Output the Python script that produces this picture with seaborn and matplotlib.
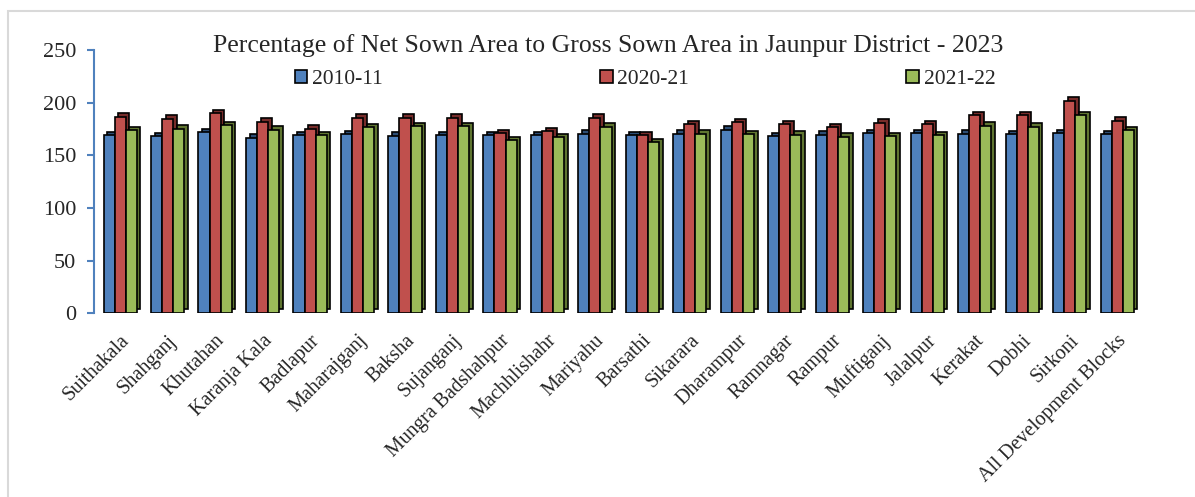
import numpy as np
import pandas as pd
import seaborn as sns
import matplotlib.pyplot as plt
import matplotlib.patheffects as pe
from matplotlib.patches import Rectangle

# data
blocks = ["Suithakala", "Shahganj", "Khutahan", "Karanja Kala", "Badlapur",
          "Maharajganj", "Baksha", "Sujanganj", "Mungra Badshahpur", "Machhlishahr",
          "Mariyahu", "Barsathi", "Sikarara", "Dharampur", "Ramnagar", "Rampur",
          "Muftiganj", "Jalalpur", "Kerakat", "Dobhi", "Sirkoni", "All Development Blocks"]
years = ["2010-11", "2020-21", "2021-22"]
v_2010 = [169, 168, 172, 166.5, 169, 170, 168.5, 169, 169, 169, 170.5, 169,
          170.5, 174.5, 168, 169.5, 171, 171, 170.5, 170, 171, 170]
v_2020 = [186.5, 185, 190, 182, 175.5, 186, 186, 186, 171, 173, 186, 169,
          179.5, 181.5, 179.5, 176.5, 181, 179.5, 188, 188, 202, 183]
v_2021 = [174, 175.5, 178.5, 174.5, 169, 176.5, 177.5, 177.5, 164.5, 167, 177, 162.5,
          170.5, 170, 169.5, 167.5, 168, 169, 178, 177, 188, 174]

colors = ["#4F81BD", "#C0504D", "#9BBB59"]
side_colors = ["#2C4D75", "#772C2A", "#5F7530"]

df = pd.DataFrame({
    "block": blocks * 3,
    "year": np.repeat(years, len(blocks)),
    "value": v_2010 + v_2020 + v_2021,
})

sns.set_style("white")
plt.rcParams["font.family"] = ["Liberation Serif", "DejaVu Serif"]

fig = plt.figure(figsize=(11.95, 4.97), dpi=100)
ax = fig.add_axes([0.0787, 0.370, 0.878, 0.529])

sns.barplot(data=df, x="block", y="value", hue="year", palette=colors, saturation=1,
            width=0.7, edgecolor="black", linewidth=1.2, ax=ax)

# fake 3D depth: offset dark copy behind each bar
for cont, sc in zip(ax.containers, side_colors):
    for bar in cont:
        bar.set_path_effects([
            pe.PathPatchEffect(offset=(2.6, 2.6), facecolor=sc, edgecolor="black", linewidth=1.2),
            pe.Normal(),
        ])

ax.set_ylim(0, 250)
ax.set_xlim(-0.55, len(blocks) - 0.45)
ax.set_yticks(range(0, 251, 50))
ax.set_xlabel("")
ax.set_ylabel("")
for s in ["top", "right", "bottom"]:
    ax.spines[s].set_visible(False)
ax.spines["left"].set_color("#4F81BD")
ax.spines["left"].set_linewidth(1.5)
ax.tick_params(axis="y", length=5, width=1.5, color="#4F81BD", labelsize=16, pad=8, left=True)
ax.tick_params(axis="x", length=0, labelsize=14.5, pad=13)
plt.setp(ax.get_xticklabels(), rotation=45, ha="right", rotation_mode="anchor")

ax.set_title("Percentage of Net Sown Area to Gross Sown Area in Jaunpur District - 2023",
             fontsize=18.5, pad=-1, x=0.49)

handles, labels = ax.get_legend_handles_labels()
ax.legend(handles, labels, loc="upper center", bbox_to_anchor=(0.525, 1.0), ncol=3,
          frameon=False, fontsize=15.5, handlelength=0.6, handleheight=0.6,
          handletextpad=0.2, columnspacing=10.1)

# light grey frame around the chart
fig.add_artist(Rectangle((8 / 1195, -0.1), 1.2, (497 - 11) / 497 + 0.1,
                         transform=fig.transFigure, fill=False,
                         edgecolor="#D9D9D9", linewidth=1.5))

fig.savefig("out.png", dpi=100)
